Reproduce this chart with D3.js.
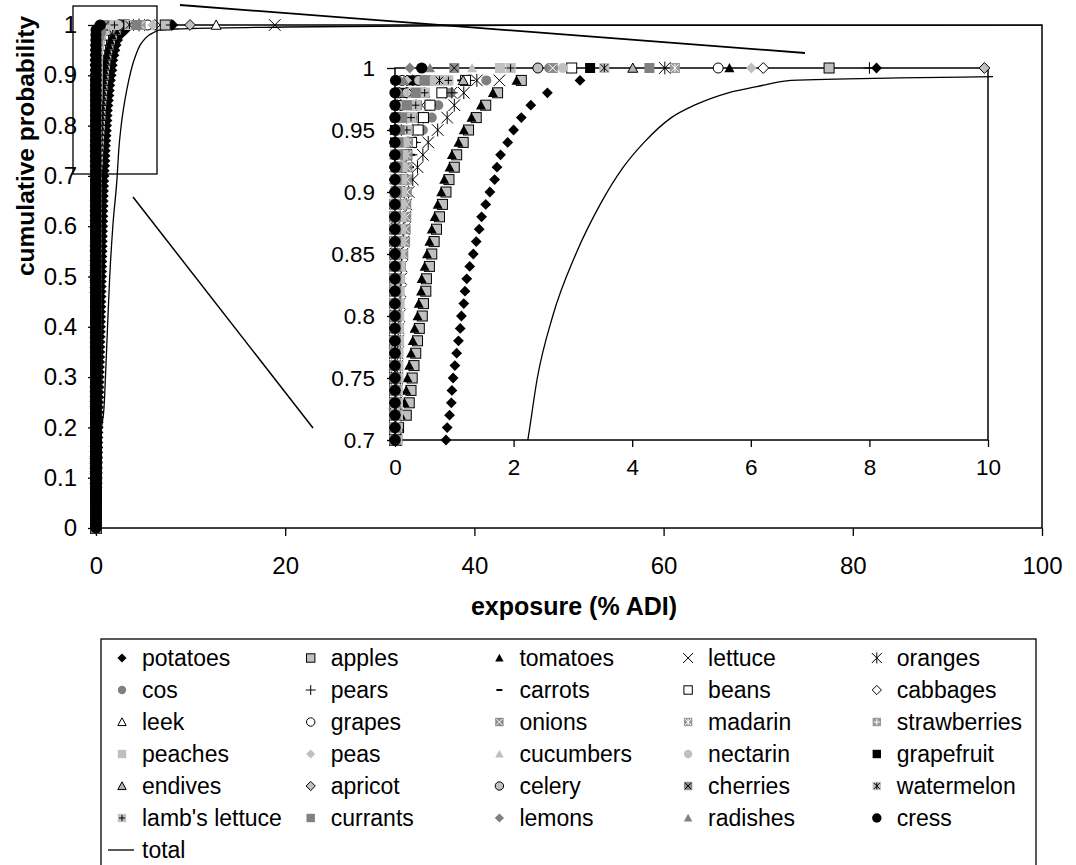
<!DOCTYPE html>
<html>
<head>
<meta charset="utf-8">
<script src="https://cdnjs.cloudflare.com/ajax/libs/d3/7.8.5/d3.min.js"></script>
<style>
  body { margin: 0; background: #fff; }
  text { font-family: Arial, "Liberation Sans", sans-serif; }
</style>
</head>
<body>
<svg id="chart" width="1076" height="865"></svg>
<script>
"use strict";

// cumulative probability levels shared by every food series
const probLevels = [
  0,0.01,0.02,0.03,0.04,0.05,0.06,0.07,0.08,0.09,0.1,0.11,0.12,0.13,0.14,0.15,0.16,0.17,0.18,0.19,
  0.2,0.21,0.22,0.23,0.24,0.25,0.26,0.27,0.28,0.29,0.3,0.31,0.32,0.33,0.34,0.35,0.36,0.37,0.38,0.39,
  0.4,0.41,0.42,0.43,0.44,0.45,0.46,0.47,0.48,0.49,0.5,0.51,0.52,0.53,0.54,0.55,0.56,0.57,0.58,0.59,
  0.6,0.61,0.62,0.63,0.64,0.65,0.66,0.67,0.68,0.69,0.7,0.71,0.72,0.73,0.74,0.75,0.76,0.77,0.78,0.79,
  0.8,0.81,0.82,0.83,0.84,0.85,0.86,0.87,0.88,0.89,0.9,0.91,0.92,0.93,0.94,0.95,0.96,0.97,0.98,0.99,
  1
];

// exposure (% ADI) per probability level, one array per food
const potatoes = [
  0,0.01,0.02,0.04,0.05,0.06,0.07,0.08,0.10,0.11,0.12,0.13,0.14,0.15,0.17,0.18,0.19,0.20,0.21,0.22,
  0.24,0.25,0.26,0.27,0.28,0.29,0.31,0.32,0.33,0.34,0.35,0.36,0.37,0.39,0.40,0.41,0.42,0.43,0.45,0.46,
  0.47,0.48,0.49,0.50,0.52,0.53,0.54,0.55,0.56,0.57,0.59,0.60,0.61,0.62,0.63,0.65,0.66,0.67,0.68,0.69,
  0.71,0.72,0.73,0.74,0.76,0.77,0.78,0.80,0.81,0.83,
  0.86,0.88,0.92,0.95,0.96,0.98,1.01,1.04,1.07,1.10,1.12,1.16,1.18,1.21,1.26,1.32,1.37,1.42,1.46,1.53,
  1.60,1.68,1.72,1.78,1.90,2.00,2.13,2.29,2.57,3.12,8.12
];
const apples = [
  0,0,0,0,0,0,0,0,0,0,0,0,0,0,0,0,0,0,0,0,0,0,0,0,0,0,0,0,0,0,
  0.01,0.01,0.01,0.01,0.01,0.01,0.01,0.01,0.01,0.01,0.01,0.01,0.01,0.01,0.01,0.01,0.01,0.01,0.01,0.01,
  0.02,0.02,0.02,0.02,0.02,0.02,0.02,0.02,0.02,0.02,0.02,0.02,0.02,0.02,0.02,0.02,0.02,0.02,0.02,0.02,
  0.03,0.06,0.19,0.24,0.27,0.29,0.32,0.35,0.38,0.41,0.46,0.48,0.52,0.53,0.58,0.62,0.66,0.70,0.75,0.80,
  0.86,0.91,1.00,1.04,1.15,1.24,1.37,1.53,1.73,2.13,7.32
];
const tomatoes = [
  0,0,0,0,0,0,0,0,0,0,0,0,0,0,0,0,0,0,0,0,0,0,0,0,0,0,0,0,0,0,0,0,0,0,0,0,0,0,0,0,
  0.01,0.01,0.01,0.01,0.01,0.01,0.01,0.01,0.01,0.01,0.01,0.01,0.01,0.01,0.01,
  0.02,0.02,0.02,0.02,0.02,0.02,0.02,0.02,0.02,0.02,0.03,0.03,0.03,0.03,0.03,
  0.03,0.07,0.10,0.16,0.19,0.21,0.24,0.27,0.30,0.33,0.38,0.40,0.44,0.45,0.50,0.54,0.58,0.62,0.67,0.72,
  0.78,0.83,0.92,0.96,1.07,1.16,1.29,1.45,1.65,2.05,5.64
];
const lettuce = [
  0,0,0,0,0,0,0,0,0,0,0,0,0,0,0,0,0,0,0,0,0,0,0,0,0,0,0,0,0,0,0,0,0,0,0,
  0,0,0,0,0,0,0,0,0,0,0,0,0,0,0,0,0,0,0,0,0,0,0,0,0,0,0,0,0,0,0,0,0,0,0,
  0,0,0,0,0,0,0,0,0,0,0.01,0.01,0.01,0.01,0.01,0.02,0.03,0.04,0.05,0.06,
  0.07,0.08,0.09,0.10,0.12,0.20,0.30,0.45,0.95,1.76,18.9
];
const oranges = [
  0,0,0,0,0,0,0,0,0,0,0,0,0,0,0,0,0,0,0,0,0,0,0,0,0,0,0,0,0,0,0,0,0,0,0,
  0,0,0,0,0,0,0,0,0,0,0,0,0,0,0,0,0,0,0,0,0,0,0,0,0,0,0,0,0,0,0,0,0,0,0,
  0.01,0.01,0.02,0.02,0.03,0.03,0.04,0.04,0.05,0.06,0.07,0.08,0.09,0.10,0.11,0.12,0.14,0.15,0.17,0.19,
  0.23,0.30,0.38,0.47,0.56,0.72,0.88,1.00,1.16,1.38,4.55
];
const cos = [
  0,0,0,0,0,0,0,0,0,0,0,0,0,0,0,0,0,0,0,0,0,0,0,0,0,0,0,0,0,0,0,0,0,0,0,
  0,0,0,0,0,0,0,0,0,0,0,0,0,0,0,0,0,0,0,0,0,0,0,0,0,0,0,0,0,0,0,0,0,0,0,
  0,0,0,0,0,0,0,0,0,0,0,0,0,0,0,0,0.01,0.02,0.03,0.05,
  0.07,0.09,0.12,0.16,0.25,0.47,0.62,0.73,0.94,1.54,2.60
];
const pears = [
  0,0,0,0,0,0,0,0,0,0,0,0,0,0,0,0,0,0,0,0,0,0,0,0,0,0,0,0,0,0,0,0,0,0,0,
  0,0,0,0,0,0,0,0,0,0,0,0,0,0,0,0,0,0,0,0,0,0,0,0,0,0,0,0,0,0,0,0,0,0,0,
  0,0,0,0,0,0,0,0,0,0,0,0,0,0,0,0,0,0,0,0,
  0,0.02,0.05,0.28,0.34,0.39,0.48,0.59,0.96,1.25,8.0
];
const carrots = [
  0,0,0,0,0,0,0,0,0,0,0,0,0,0,0,0,0,0,0,0,0,0,0,0,0,0,0,0,0,0,0,0,0,0,0,
  0,0,0,0,0,0,0,0,0,0,0,0,0,0,0,0,0,0,0,0,0,0,0,0,0,0,0,0,0,0,0,0,0,0,0,
  0,0,0,0,0,0,0,0,0,0,0,0,0,0,0,0.05,0.10,0.13,0.17,0.20,
  0.22,0.25,0.27,0.29,0.33,0.40,0.50,0.62,0.80,1.10,3.0
];
const beans = [
  0,0,0,0,0,0,0,0,0,0,0,0,0,0,0,0,0,0,0,0,0,0,0,0,0,0,0,0,0,0,0,0,0,0,0,
  0,0,0,0,0,0,0,0,0,0,0,0,0,0,0,0,0,0,0,0,0,0,0,0,0,0,0,0,0,0,0,0,0,0,0,
  0,0,0,0,0,0,0,0,0,0,0,0,0,0,0,0,0,0,0,0,
  0.02,0.05,0.10,0.18,0.28,0.39,0.48,0.59,0.79,1.19,2.98
];
const cabbages = [
  0,0,0,0,0,0,0,0,0,0,0,0,0,0,0,0,0,0,0,0,0,0,0,0,0,0,0,0,0,0,0,0,0,0,0,
  0,0,0,0,0,0,0,0,0,0,0,0,0,0,0,0,0,0,0,0,0,0,0,0,0,0,0,0,0,0,0,0,0,0,0,
  0,0,0,0,0,0,0,0,0,0,0,0,0,0,0,0,0,0,0,0,
  0,0,0,0,0,0.03,0.06,0.10,0.20,0.30,6.21
];
const leek = [
  0,0,0,0,0,0,0,0,0,0,0,0,0,0,0,0,0,0,0,0,0,0,0,0,0,0,0,0,0,0,0,0,0,0,0,
  0,0,0,0,0,0,0,0,0,0,0,0,0,0,0,0,0,0,0,0,0,0,0,0,0,0,0,0,0,0,0,0,0,0,0,
  0,0,0,0,0,0,0,0,0,0,0,0,0,0,0,0,0,0,0,0,
  0,0,0,0,0,0,0.04,0.10,0.30,0.60,12.7
];
const grapes = [
  0,0,0,0,0,0,0,0,0,0,0,0,0,0,0,0,0,0,0,0,0,0,0,0,0,0,0,0,0,0,0,0,0,0,0,
  0,0,0,0,0,0,0,0,0,0,0,0,0,0,0,0,0,0,0,0,0,0,0,0,0,0,0,0,0,0,0,0,0,0,0,
  0,0,0,0,0,0,0,0,0,0,0,0,0,0,0,0,0,0,0,0,
  0,0,0,0,0,0,0,0.02,0.05,0.12,5.45
];
const onions = [
  0,0,0,0,0,0,0,0,0,0,0,0,0,0,0,0,0,0,0,0,0,0,0,0,0,0,0,0,0,0,0,0,0,0,0,0,0,0,0,0,
  0,0,0,0,0,0,0,0,0,0,0.01,0.01,0.01,0.01,0.01,0.01,0.01,0.01,0.01,0.01,
  0.01,0.01,0.01,0.01,0.01,0.02,0.02,0.02,0.02,0.02,
  0.02,0.02,0.03,0.03,0.03,0.04,0.04,0.04,0.05,0.05,0.06,0.06,0.07,0.08,0.10,0.14,0.17,0.18,0.19,0.19,
  0.20,0.20,0.21,0.21,0.22,0.22,0.30,0.37,0.45,0.55,2.66
];
const madarin = [
  0,0,0,0,0,0,0,0,0,0,0,0,0,0,0,0,0,0,0,0,0,0,0,0,0,0,0,0,0,0,0,0,0,0,0,
  0,0,0,0,0,0,0,0,0,0,0,0,0,0,0,0,0,0,0,0,0,0,0,0,0,0,0,0,0,0,0,0,0,0,0,
  0,0,0,0,0,0,0,0,0,0,0,0,0,0,0,0,0,0,0,0,
  0.03,0.05,0.08,0.11,0.15,0.20,0.25,0.35,0.50,0.70,4.72
];
const strawberries = [
  0,0,0,0,0,0,0,0,0,0,0,0,0,0,0,0,0,0,0,0,0,0,0,0,0,0,0,0,0,0,0,0,0,0,0,
  0,0,0,0,0,0,0,0,0,0,0,0,0,0,0,0,0,0,0,0,0,0,0,0,0,0,0,0,0,0,0,0,0,0,0,
  0,0,0,0,0,0,0,0,0,0,0,0,0,0,0,0,0,0,0,0,
  0,0,0.03,0.06,0.10,0.15,0.22,0.30,0.42,0.85,1.77
];
const peaches = [
  0,0,0,0,0,0,0,0,0,0,0,0,0,0,0,0,0,0,0,0,
  0.01,0.01,0.01,0.01,0.01,0.01,0.01,0.01,0.01,0.01,0.01,0.01,0.01,0.01,0.01,0.01,0.01,0.01,0.01,0.01,
  0.02,0.02,0.02,0.02,0.02,0.02,0.02,0.02,0.02,0.02,0.02,0.02,0.02,0.02,0.02,
  0.03,0.03,0.03,0.03,0.03,0.03,0.03,0.03,0.03,0.03,0.03,0.03,0.03,0.03,0.03,
  0.04,0.04,0.05,0.05,0.05,0.06,0.06,0.06,0.07,0.07,0.07,0.08,0.08,0.08,0.09,0.09,0.10,0.10,0.11,0.11,
  0.12,0.12,0.13,0.14,0.16,0.18,0.22,0.30,0.36,0.60,1.77
];
const peas = [
  0,0,0,0,0,0,0,0,0,0,0,0,0,0,0,0,0,0,0,0,0,0,0,0,0,0,0,0,0,0,0,0,0,0,0,
  0,0,0,0,0,0,0,0,0,0,0,0,0,0,0,0,0,0,0,0,0,0,0,0,0,0,0,0,0,0,0,0,0,0,0,
  0,0,0,0,0,0,0,0,0,0,0,0,0,0,0,0,0,0,0,0,
  0,0,0,0,0.03,0.06,0.10,0.16,0.25,0.55,6.01
];
const cucumbers = [
  0,0,0,0,0,0,0,0,0,0,0,0,0,0,0,0,0,0,0,0,0,0,0,0,0,0,0,0,0,0,0,0,0,0,0,
  0,0,0,0,0,0,0,0,0,0,0,0,0,0,0,0,0,0,0,0,0,0,0,0,0,0,0,0,0,0,0,0,0,0,0,
  0,0,0,0,0,0,0,0,0,0,0,0,0,0,0,0,0,0,0,0,
  0,0.02,0.04,0.06,0.09,0.12,0.17,0.22,0.35,0.50,1.30
];
const nectarin = [
  0,0,0,0,0,0,0,0,0,0,0,0,0,0,0,0,0,0,0,0,0,0,0,0,0,0,0,0,0,0,0,0,0,0,0,
  0,0,0,0,0,0,0,0,0,0,0,0,0,0,0,0,0,0,0,0,0,0,0,0,0,0,0,0,0,0,0,0,0,0,0,
  0,0,0,0,0,0,0,0,0,0,0,0,0,0,0,0,0,0,0,0,
  0,0,0.03,0.06,0.10,0.15,0.22,0.30,0.45,0.90,2.83
];
const grapefruit = [
  0,0,0,0,0,0,0,0,0,0,0,0,0,0,0,0,0,0,0,0,0,0,0,0,0,0,0,0,0,0,0,0,0,0,0,
  0,0,0,0,0,0,0,0,0,0,0,0,0,0,0,0,0,0,0,0,0,0,0,0,0,0,0,0,0,0,0,0,0,0,0,
  0,0,0,0,0,0,0,0,0,0,0,0,0,0,0,0,0,0,0,0,
  0,0,0,0,0,0,0.02,0.05,0.10,0.30,3.29
];
const endives = [
  0,0,0,0,0,0,0,0,0,0,0,0,0,0,0,0,0,0,0,0,0,0,0,0,0,0,0,0,0,0,0,0,0,0,0,
  0,0,0,0,0,0,0,0,0,0,0,0,0,0,0,0,0,0,0,0,0,0,0,0,0,0,0,0,0,0,0,0,0,0,0,
  0,0,0,0,0,0,0,0,0,0,0,0,0,0,0,0,0,0,0,0,
  0,0,0,0,0.03,0.07,0.12,0.25,0.50,1.15,4.01
];
const apricot = [
  0,0,0,0,0,0,0,0,0,0,0,0,0,0,0,0,0,0,0,0,0,0,0,0,0,0,0,0,0,0,0,0,0,0,0,
  0,0,0,0,0,0,0,0,0,0,0,0,0,0,0,0,0,0,0,0,0,0,0,0,0,0,0,0,0,0,0,0,0,0,0,
  0,0,0,0,0,0,0,0,0,0,0,0,0,0,0,0,0,0,0,0,
  0,0,0,0,0,0,0.02,0.04,0.08,0.20,9.94
];
const celery = [
  0,0,0,0,0,0,0,0,0,0,0,0,0,0,0,0,0,0,0,0,0,0,0,0,0,0,0,0,0,0,0,0,0,0,0,
  0,0,0,0,0,0,0,0,0,0,0,0,0,0,0,0,0,0,0,0,0,0,0,0,0,0,0,0,0,0,0,0,0,0,0,
  0,0,0,0,0,0,0,0,0,0,0,0,0,0,0,0,0,0,0,0,
  0,0,0,0,0,0.03,0.06,0.10,0.20,0.40,2.41
];
const cherries = [
  0,0,0,0,0,0,0,0,0,0,0,0,0,0,0,0,0,0,0,0,0,0,0,0,0,0,0,0,0,0,0,0,0,0,0,
  0,0,0,0,0,0,0,0,0,0,0,0,0,0,0,0,0,0,0,0,0,0,0,0,0,0,0,0,0,0,0,0,0,0,0,
  0,0,0,0,0,0,0,0,0,0,0,0,0,0,0,0,0,0,0,0,
  0,0,0,0.02,0.05,0.10,0.15,0.20,0.30,0.50,1.00
];
const watermelon = [
  0,0,0,0,0,0,0,0,0,0,0,0,0,0,0,0,0,0,0,0,0,0,0,0,0,0,0,0,0,0,0,0,0,0,0,
  0,0,0,0,0,0,0,0,0,0,0,0,0,0,0,0,0,0,0,0,0,0,0,0,0,0,0,0,0,0,0,0,0,0,0,
  0,0,0,0,0,0,0,0,0,0,0,0,0,0,0,0,0,0,0,0,
  0,0,0,0,0.03,0.07,0.12,0.20,0.30,0.75,3.53
];
const lambsLettuce = [
  0,0,0,0,0,0,0,0,0,0,0,0,0,0,0,0,0,0,0,0,0,0,0,0,0,0,0,0,0,0,0,0,0,0,0,
  0,0,0,0,0,0,0,0,0,0,0,0,0,0,0,0,0,0,0,0,0,0,0,0,0,0,0,0,0,0,0,0,0,0,0,
  0,0,0,0,0,0,0,0,0,0,0,0,0,0,0,0,0,0,0,0,
  0,0,0,0.03,0.06,0.20,0.27,0.35,0.50,0.90,1.95
];
const currants = [
  0,0,0,0,0,0,0,0,0,0,0,0,0,0,0,0,0,0,0,0,0,0,0,0,0,0,0,0,0,0,0,0,0,0,0,0,0,0,0,0,
  0,0,0,0,0,0,0,0,0,0,0.01,0.01,0.01,0.01,0.01,0.01,0.01,0.01,0.01,0.01,
  0.01,0.01,0.01,0.01,0.01,0.01,0.01,0.01,0.01,0.01,
  0.01,0.01,0.01,0.01,0.01,0.01,0.01,0.01,0.01,0.01,0.02,0.02,0.02,0.02,0.02,0.02,0.02,0.02,0.02,0.02,
  0.03,0.03,0.04,0.05,0.06,0.08,0.12,0.20,0.35,0.50,4.29
];
const lemons = [
  0,0,0,0,0,0,0,0,0,0,0,0,0,0,0,0,0,0,0,0,0,0,0,0,0,0,0,0,0,0,0,0,0,0,0,
  0,0,0,0,0,0,0,0,0,0,0,0,0,0,0,0,0,0,0,0,0,0,0,0,0,0,0,0,0,0,0,0,0,0,0,
  0,0,0,0,0,0,0,0,0,0,0,0,0,0,0,0,0,0,0,0,
  0,0,0,0,0,0,0,0,0.03,0.08,0.25
];
const radishes = [
  0,0,0,0,0,0,0,0,0,0,0,0,0,0,0,0,0,0,0,0,0,0,0,0,0,0,0,0,0,0,0,0,0,0,0,
  0,0,0,0,0,0,0,0,0,0,0,0,0,0,0,0,0,0,0,0,0,0,0,0,0,0,0,0,0,0,0,0,0,0,0,
  0,0,0,0,0,0,0,0,0,0,0,0,0,0,0,0,0,0,0,0,
  0,0,0,0,0,0,0,0.03,0.08,0.15,0.59
];
const cress = [
  0,0,0,0,0,0,0,0,0,0,0,0,0,0,0,0,0,0,0,0,0,0,0,0,0,0,0,0,0,0,0,0,0,0,0,
  0,0,0,0,0,0,0,0,0,0,0,0,0,0,0,0,0,0,0,0,0,0,0,0,0,0,0,0,0,0,0,0,0,0,0,
  0,0,0,0,0,0,0,0,0,0,0,0,0,0,0,0,0,0,0,0,
  0,0,0,0,0,0,0,0,0,0.01,0.45
];

// total exposure curve (line only)
const totalExposure = [0, 0.25, 0.6, 0.85, 1.0, 1.22, 1.45, 1.78, 2.24, 2.40, 2.66, 3.05, 3.46, 3.85, 4.2, 4.66, 5.05, 5.62, 6.1, 6.68, 8.5, 10.1, 20, 40, 100];
const totalProb     = [0, 0.1, 0.2, 0.24, 0.3, 0.4, 0.5, 0.6, 0.7, 0.75, 0.8, 0.85, 0.89, 0.92, 0.94, 0.96, 0.97, 0.98, 0.985, 0.99, 0.992, 0.993, 0.996, 0.999, 1];

const seriesNames = ["potatoes","apples","tomatoes","lettuce","oranges",
  "cos","pears","carrots","beans","cabbages",
  "leek","grapes","onions","madarin","strawberries",
  "peaches","peas","cucumbers","nectarin","grapefruit",
  "endives","apricot","celery","cherries","watermelon",
  "lamb's lettuce","currants","lemons","radishes","cress"];
const seriesValues = [potatoes, apples, tomatoes, lettuce, oranges,
  cos, pears, carrots, beans, cabbages,
  leek, grapes, onions, madarin, strawberries,
  peaches, peas, cucumbers, nectarin, grapefruit,
  endives, apricot, celery, cherries, watermelon,
  lambsLettuce, currants, lemons, radishes, cress];

const mainXTicks = [0, 20, 40, 60, 80, 100];
const mainYTicks = [0, 0.1, 0.2, 0.3, 0.4, 0.5, 0.6, 0.7, 0.8, 0.9, 1];
const insetXTicks = [0, 2, 4, 6, 8, 10];
const insetYTicks = [0.7, 0.75, 0.8, 0.85, 0.9, 0.95, 1];

// marker look for each series (Excel style markers)
const GRAY = "#808080", LIGHT = "#c0c0c0";
const markerStyle = {
  "potatoes":      { shape: "diamond", fill: "#000" },
  "apples":        { shape: "square", fill: LIGHT, stroke: "#000" },
  "tomatoes":      { shape: "triangle", fill: "#000" },
  "lettuce":       { shape: "x" },
  "oranges":       { shape: "asterisk" },
  "cos":           { shape: "circle", fill: GRAY },
  "pears":         { shape: "plus" },
  "carrots":       { shape: "dash" },
  "beans":         { shape: "square", fill: "#fff", stroke: "#000" },
  "cabbages":      { shape: "diamond", fill: "#fff", stroke: "#000" },
  "leek":          { shape: "triangle", fill: "#fff", stroke: "#000" },
  "grapes":        { shape: "circle", fill: "#fff", stroke: "#000" },
  "onions":        { shape: "square", fill: "#8c8c8c", glyph: "x", glyphColor: "#fff" },
  "madarin":       { shape: "square", fill: "#999", glyph: "asterisk", glyphColor: "#fff" },
  "strawberries":  { shape: "square", fill: "#999", glyph: "plus", glyphColor: "#fff" },
  "peaches":       { shape: "square", fill: LIGHT },
  "peas":          { shape: "diamond", fill: LIGHT },
  "cucumbers":     { shape: "triangle", fill: LIGHT },
  "nectarin":      { shape: "circle", fill: LIGHT },
  "grapefruit":    { shape: "square", fill: "#000" },
  "endives":       { shape: "triangle", fill: "#b4b4b4", stroke: "#000" },
  "apricot":       { shape: "diamond", fill: LIGHT, stroke: "#000" },
  "celery":        { shape: "circle", fill: LIGHT, stroke: "#000" },
  "cherries":      { shape: "square", fill: "#8c8c8c", glyph: "x", glyphColor: "#000" },
  "watermelon":    { shape: "square", fill: LIGHT, glyph: "asterisk", glyphColor: "#000" },
  "lamb's lettuce":{ shape: "square", fill: LIGHT, glyph: "plus", glyphColor: "#000" },
  "currants":      { shape: "square", fill: GRAY },
  "lemons":        { shape: "diamond", fill: GRAY },
  "radishes":      { shape: "triangle", fill: GRAY },
  "cress":         { shape: "circle", fill: "#000", r: 5.6 }
};

const svg = d3.select("#chart");
svg.append("rect").attr("width", 1076).attr("height", 865).attr("fill", "#fff");

function glyphPath(kind, h) {
  if (kind === "x") return `M${-h},${-h}L${h},${h}M${-h},${h}L${h},${-h}`;
  if (kind === "plus") return `M${-h},0L${h},0M0,${-h}L0,${h}`;
  if (kind === "asterisk") return `M${-h},${-h}L${h},${h}M${-h},${h}L${h},${-h}M0,${-h * 1.1}L0,${h * 1.1}`;
  return "";
}

function drawMarker(parent, name, cx, cy, h) {
  const st = markerStyle[name];
  const g = parent.append("g").attr("transform", `translate(${cx},${cy})`);
  const stroke = st.stroke || "none";
  if (st.shape === "square") {
    g.append("rect").attr("x", -h).attr("y", -h).attr("width", 2 * h).attr("height", 2 * h)
      .attr("fill", st.fill).attr("stroke", stroke).attr("stroke-width", 1);
    if (st.glyph) {
      g.append("path").attr("d", glyphPath(st.glyph, h - 1.2))
        .attr("stroke", st.glyphColor).attr("stroke-width", 1).attr("fill", "none");
    }
  } else if (st.shape === "circle") {
    g.append("circle").attr("r", st.r ? st.r * h / 5 : h).attr("fill", st.fill).attr("stroke", stroke).attr("stroke-width", 1);
  } else if (st.shape === "diamond") {
    const d = h + 0.4;
    g.append("path").attr("d", `M0,${-d}L${d},0L0,${d}L${-d},0Z`)
      .attr("fill", st.fill).attr("stroke", stroke).attr("stroke-width", 1);
  } else if (st.shape === "triangle") {
    g.append("path").attr("d", `M0,${-h}L${h},${h * 0.85}L${-h},${h * 0.85}Z`)
      .attr("fill", st.fill).attr("stroke", stroke).attr("stroke-width", 1);
  } else if (st.shape === "dash") {
    g.append("path").attr("d", "M-3,0L3,0").attr("stroke", "#000").attr("stroke-width", 2);
  } else {
    g.append("path").attr("d", glyphPath(st.shape, h + 0.8))
      .attr("stroke", "#000").attr("stroke-width", 1).attr("fill", "none");
  }
}

function styleAxis(g, size) {
  g.attr("font-family", "Arial, 'Liberation Sans', sans-serif").attr("font-size", size);
  g.select(".domain").remove();
  g.selectAll(".tick line").attr("stroke", "#000").attr("stroke-width", 1.3);
  g.selectAll(".tick text").attr("fill", "#000");
}

// ---------- main chart ----------
const xMain = d3.scaleLinear().domain([0, 100]).range([96, 1042]);
const yMain = d3.scaleLinear().domain([0, 1]).range([528, 25]);
const fmt = d3.format("~g");

svg.append("defs").append("clipPath").attr("id", "clipMain")
  .append("rect").attr("x", 96).attr("y", 25).attr("width", 946).attr("height", 503);

const gxMain = svg.append("g").attr("transform", "translate(0,528)")
  .call(d3.axisBottom(xMain).tickValues(mainXTicks).tickSize(8).tickSizeOuter(0).tickPadding(21).tickFormat(fmt));
styleAxis(gxMain, 24);
const gyMain = svg.append("g").attr("transform", "translate(96,0)")
  .call(d3.axisLeft(yMain).tickValues(mainYTicks).tickSize(8).tickSizeOuter(0).tickPadding(11).tickFormat(fmt));
styleAxis(gyMain, 24);

svg.append("rect").attr("x", 96).attr("y", 25).attr("width", 946).attr("height", 503)
  .attr("fill", "none").attr("stroke", "#000").attr("stroke-width", 1.5);

const totalPts = totalExposure.map((v, i) => [v, totalProb[i]]);

svg.append("path").datum(totalPts)
  .attr("clip-path", "url(#clipMain)")
  .attr("fill", "none").attr("stroke", "#000").attr("stroke-width", 1.3)
  .attr("d", d3.line().x(d => xMain(d[0])).y(d => yMain(d[1])).curve(d3.curveMonotoneX));

const gMainPts = svg.append("g");
seriesNames.forEach((name, s) => {
  seriesValues[s].forEach((v, i) => drawMarker(gMainPts, name, xMain(v), yMain(probLevels[i]), 5));
});

svg.append("text").attr("transform", "translate(34,146) rotate(-90)")
  .attr("text-anchor", "middle").attr("font-size", 24.5).attr("font-weight", "bold")
  .text("cumulative probability");
svg.append("text").attr("x", 574).attr("y", 615)
  .attr("text-anchor", "middle").attr("font-size", 25).attr("font-weight", "bold")
  .text("exposure (% ADI)");

// zoom highlight and connector lines
svg.append("rect").attr("x", 73).attr("y", 6).attr("width", 84).attr("height", 168)
  .attr("fill", "none").attr("stroke", "#000").attr("stroke-width", 1.3);
svg.append("line").attr("x1", 180).attr("y1", 5).attr("x2", 805).attr("y2", 53)
  .attr("stroke", "#000").attr("stroke-width", 1.8);
svg.append("line").attr("x1", 133).attr("y1", 197).attr("x2", 313).attr("y2", 428)
  .attr("stroke", "#000").attr("stroke-width", 1.5);

// ---------- inset ----------
const xInset = d3.scaleLinear().domain([0, 10]).range([395, 988]);
const yInset = d3.scaleLinear().domain([0.7, 1]).range([440, 68]);

svg.select("defs").append("clipPath").attr("id", "clipInset")
  .append("rect").attr("x", 395).attr("y", 60).attr("width", 598).attr("height", 380);

const gxIn = svg.append("g").attr("transform", "translate(0,440)")
  .call(d3.axisBottom(xInset).tickValues(insetXTicks).tickSize(7).tickSizeOuter(0).tickPadding(12).tickFormat(fmt));
styleAxis(gxIn, 22.5);
const gyIn = svg.append("g").attr("transform", "translate(395,0)")
  .call(d3.axisLeft(yInset).tickValues(insetYTicks).tickSize(8).tickSizeOuter(0).tickPadding(12).tickFormat(fmt));
styleAxis(gyIn, 22.5);

svg.append("rect").attr("x", 395).attr("y", 68).attr("width", 593).attr("height", 372)
  .attr("fill", "none").attr("stroke", "#000").attr("stroke-width", 1.5);

svg.append("path").datum(totalPts)
  .attr("clip-path", "url(#clipInset)")
  .attr("fill", "none").attr("stroke", "#000").attr("stroke-width", 1.3)
  .attr("d", d3.line().x(d => xInset(d[0])).y(d => yInset(d[1])).curve(d3.curveMonotoneX));

const gInPts = svg.append("g");
seriesNames.forEach((name, s) => {
  seriesValues[s].forEach((v, i) => {
    const p = probLevels[i];
    if (p >= 0.7 && v <= 10) drawMarker(gInPts, name, xInset(v), yInset(p), 5);
  });
});

// ---------- legend ----------
const legendCols = 5, colStep = 188.7, rowStep = 32;
const legendX0 = 122, legendY0 = 658;
svg.append("rect").attr("x", 101).attr("y", 639).attr("width", 935).attr("height", 260)
  .attr("fill", "none").attr("stroke", "#000").attr("stroke-width", 1.3);

const gLeg = svg.append("g");
seriesNames.forEach((name, s) => {
  const cx = legendX0 + (s % legendCols) * colStep;
  const cy = legendY0 + Math.floor(s / legendCols) * rowStep;
  drawMarker(gLeg, name, cx, cy, 4.2);
  gLeg.append("text").attr("x", cx + 20).attr("y", cy).attr("dy", "0.35em")
    .attr("font-size", 23).text(name);
});
const totalRowY = legendY0 + 6 * rowStep;
gLeg.append("line").attr("x1", 108).attr("x2", 134).attr("y1", totalRowY).attr("y2", totalRowY)
  .attr("stroke", "#000").attr("stroke-width", 1.3);
gLeg.append("text").attr("x", legendX0 + 20).attr("y", totalRowY).attr("dy", "0.35em")
  .attr("font-size", 23).text("total");
</script>
</body>
</html>
